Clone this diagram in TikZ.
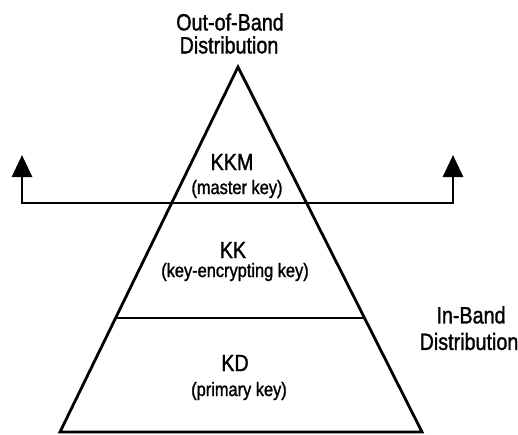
\documentclass[tikz,border=0pt]{standalone}
\usepackage{fontspec}
\setmainfont{Liberation Sans}[FakeStretch=0.84,FakeBold=1.3]
\usetikzlibrary{arrows.meta,calc}
\tikzset{
  bigtxt/.style={inner sep=0pt, font=\fontsize{23.5}{26}\selectfont},
  smalltxt/.style={inner sep=0pt, font=\fontsize{19.5}{22}\selectfont},
  edge/.style={line width=2.8pt, line join=miter, line cap=butt}
}
\begin{document}
\begin{tikzpicture}[x=1pt,y=1pt]
\useasboundingbox (0,0) rectangle (518,-434);
% triangle
\coordinate (apex) at (238,-67);
\coordinate (bl) at (60,-432);
\coordinate (br) at (422,-432);
\draw[edge] (apex) -- (br) -- (bl) -- cycle;
% divider between KK and KD
\coordinate (dl) at ($(apex)!0.6877!(bl)$);
\coordinate (dr) at ($(apex)!0.6877!(br)$);
\draw[edge] (dl) -- (dr);
% distribution boundary with arrows
\coordinate (L) at (22,-203);
\coordinate (R) at (453,-203);
\coordinate (Lt) at (22,-155);
\coordinate (Rt) at (453,-155);
\draw[edge, {Triangle[width=20pt,length=22pt]}-{Triangle[width=20pt,length=22pt]}] (Lt) -- (L) -- (R) -- (Rt);
% labels
\node[bigtxt] (oob1) at (230,-22) {Out-of-Band};
\node[bigtxt] (oob2) at (229,-45) {Distribution};
\node[bigtxt] (ib1) at (471,-315) {In-Band};
\node[bigtxt] (ib2) at (469,-341.5) {Distribution};
\node[bigtxt] (kkm) at (232,-162) {KKM};
\node[smalltxt] (kkmd) at (237,-189) {(master key)};
\node[bigtxt] (kk) at (233,-250) {KK};
\node[smalltxt] (kkd) at (235,-272) {(key-encrypting key)};
\node[bigtxt] (kd) at (235,-363) {KD};
\node[smalltxt] (kdd) at (239,-391) {(primary key)};
\end{tikzpicture}
\end{document}
